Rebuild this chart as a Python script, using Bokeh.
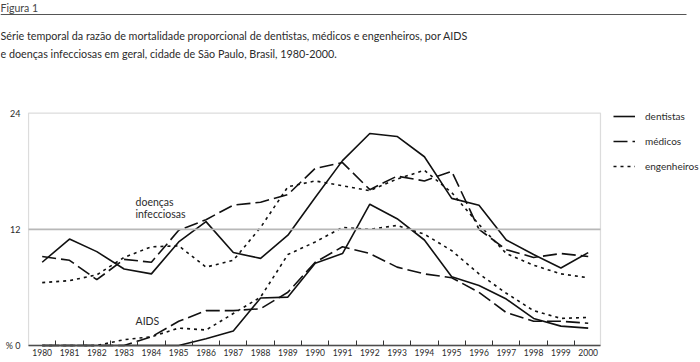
from bokeh.plotting import figure
from bokeh.models import (Range1d, FixedTicker, BoxAnnotation, Label, Legend, LegendItem)
from bokeh.embed import file_html
from bokeh.resources import INLINE

# ---------------- data ----------------
years = list(range(1980, 2001))

# doenças infecciosas em geral (%)
doencas_dentistas = [8.6, 11.0, 9.7, 7.9, 7.4, 10.7, 12.8, 9.6, 9.0, 11.4, 15.3, 19.1,
                     21.9, 21.6, 19.5, 15.2, 14.5, 10.9, 9.4, 8.0, 9.6]
doencas_medicos = [9.2, 8.8, 6.8, 8.9, 8.6, 11.9, 13.0, 14.5, 14.8, 15.6, 18.3, 18.9,
                   16.1, 17.5, 17.0, 18.0, 12.0, 9.9, 9.1, 9.5, 9.2]
doencas_engenheiros = [6.5, 6.7, 7.3, 9.1, 10.2, 10.3, 8.1, 8.8, 12.2, 16.4, 17.0, 16.5,
                       16.0, 17.2, 18.1, 15.8, 12.5, 9.5, 8.3, 7.4, 7.0]

# AIDS (%)
aids_dentistas = [0, 0, 0, 0, 0, 0, 0.7, 1.5, 4.9, 5.0, 8.5, 9.5,
                  14.6, 13.1, 10.9, 7.1, 6.2, 4.8, 2.8, 2.0, 1.8]
aids_medicos = [0, 0, 0, 0, 0.9, 2.5, 3.6, 3.6, 3.8, 5.5, 8.6, 10.2,
                9.5, 8.1, 7.4, 7.0, 5.5, 3.4, 2.5, 2.5, 2.3]
aids_engenheiros = [0, 0, 0, 0.6, 0.9, 1.8, 1.6, 3.3, 5.0, 9.4, 10.7, 12.2,
                    12.0, 12.4, 11.5, 9.8, 7.4, 5.4, 3.6, 2.8, 2.9]

y_ticks = [0, 12, 24]
y_tick_labels = ["% 0", "12", "24"]
series_names = ["dentistas", "médicos", "engenheiros"]

title_text = "Figura 1"
subtitle_1 = "Série temporal da razão de mortalidade proporcional de dentistas, médicos e engenheiros, por AIDS"
subtitle_2 = "e doenças infecciosas em geral, cidade de São Paulo, Brasil, 1980-2000."

# ---------------- layout constants ----------------
W, H = 700, 362
PX_YEAR = 27.3
X1980 = 41.7          # px of 1980
Y0 = 345.0            # px of value 0
Y24 = 112.7           # px of value 24
PX_UNIT = (Y0 - Y24) / 24.0
x_start = 1980 - X1980 / PX_YEAR
x_end = x_start + W / PX_YEAR
y_start = -(H - Y0) / PX_UNIT
y_end = Y0 / PX_UNIT
box_left, box_right = 1979.5, 2000.45

FONT = "Lato"
TXT = "#2b2b2b"
LINE = "#111111"

p = figure(width=W, height=H, output_backend="svg", toolbar_location=None,
           x_range=Range1d(x_start, x_end), y_range=Range1d(y_start, y_end),
           min_border=0, min_border_left=0, min_border_right=0, min_border_top=0,
           min_border_bottom=0)
p.outline_line_color = None
p.xgrid.visible = False
p.ygrid.visible = False
p.background_fill_color = "white"
p.border_fill_color = "white"

# plot box and reference line at 12
p.add_layout(BoxAnnotation(left=box_left, right=box_right, bottom=0, top=24,
                           fill_alpha=0, line_color="#8c8c8c", line_width=1.2))
p.add_layout(BoxAnnotation(left=box_left, right=box_right, bottom=11.9, top=12.1,
                           fill_color="#b8b8b8", fill_alpha=1, line_color=None))

# x axis (fixed at value 0, occupies no side panel)
xa = p.xaxis[0]
xa.fixed_location = 0
xa.ticker = FixedTicker(ticks=years, minor_ticks=[y + 0.5 for y in years[:-1]])
xa.bounds = (box_left, box_right)
xa.major_tick_in = 0
xa.major_tick_out = 0
xa.minor_tick_in = 5
xa.minor_tick_out = 0
xa.minor_tick_line_color = "#333333"
xa.axis_line_color = "#333333"
xa.axis_line_width = 1.5
xa.major_label_standoff = 3
xa.major_label_text_font = FONT
xa.major_label_text_font_size = "8.5px"
xa.major_label_text_color = TXT

# y axis (fixed at the plot box's left edge)
ya = p.yaxis[0]
ya.fixed_location = box_left
ya.ticker = FixedTicker(ticks=y_ticks)
ya.major_label_overrides = {t: l for t, l in zip(y_ticks, y_tick_labels)}
ya.axis_line_color = None
ya.major_tick_line_color = None
ya.minor_tick_line_color = None
ya.major_tick_in = 0
ya.major_tick_out = 0
ya.major_label_standoff = 8
ya.major_label_text_font = FONT
ya.major_label_text_font_size = "9px"
ya.major_label_text_color = TXT
ya.major_label_text_baseline = "alphabetic"

styles = [dict(line_dash="solid"), dict(line_dash="14 5"), dict(line_dash="3 4")]
doencas = [doencas_dentistas, doencas_medicos, doencas_engenheiros]
aids = [aids_dentistas, aids_medicos, aids_engenheiros]

renderers = []
for d, a, st in zip(doencas, aids, styles):
    r = p.line(years, d, line_color=LINE, line_width=1.6, **st)
    p.line(years, a, line_color=LINE, line_width=1.6, **st)
    renderers.append(r)

legend = Legend(items=[LegendItem(label=n, renderers=[r]) for n, r in zip(series_names, renderers)],
                location=(613, H - 106 - 70))
legend.padding = 0
legend.margin = 0
legend.spacing = 5
legend.glyph_width = 22
legend.glyph_height = 20
legend.label_height = 20
legend.label_standoff = 10
legend.label_text_font = FONT
legend.label_text_font_size = "10px"
legend.label_text_color = TXT
legend.border_line_color = None
legend.background_fill_alpha = 0
p.add_layout(legend, "center")

# series annotations
for txt, yv in [("doenças", 14.8), ("infecciosas", 13.55), ("AIDS", 2.5)]:
    p.add_layout(Label(x=1983.42, y=yv, text=txt, text_font=FONT, text_font_size="10.5px",
                       text_color=TXT, text_baseline="middle", text_align="left"))

# header
p.add_layout(Label(x=x_start, y=y_end, x_offset=0, y_offset=-1, text=title_text,
                   text_font=FONT, text_font_size="10.5px", text_color="#444444",
                   text_baseline="top", text_align="left"))
p.add_layout(BoxAnnotation(left=x_start, right=x_start + 686 / PX_YEAR,
                           top=y_end - 13.5 / PX_UNIT, bottom=y_end - 14.5 / PX_UNIT,
                           fill_color="#555555", fill_alpha=1, line_color=None))
for txt, off in [(subtitle_1, -35), (subtitle_2, -53)]:
    p.add_layout(Label(x=x_start, y=y_end, x_offset=0, y_offset=off, text=txt,
                       text_font=FONT, text_font_size="10.75px", text_color=TXT,
                       text_baseline="middle", text_align="left"))

open("out.html", "w").write(file_html(p, INLINE))
